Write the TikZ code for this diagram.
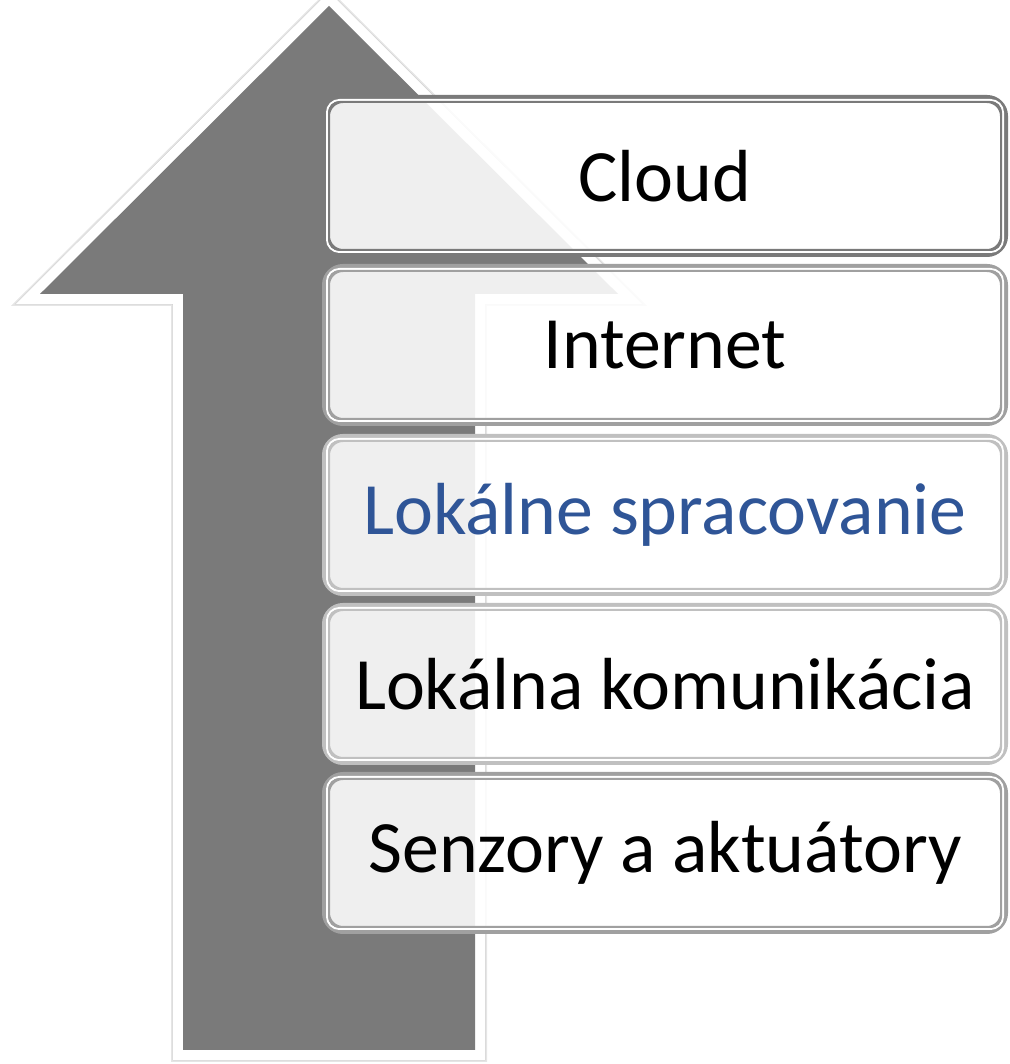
\documentclass[tikz,border=0pt]{standalone}
\usepackage{fontspec}
\setmainfont{Carlito}
\usetikzlibrary{positioning}

\definecolor{arrowgray}{RGB}{122,122,122}
\definecolor{rimdark}{RGB}{122,122,122}
\definecolor{rimmid}{RGB}{160,160,160}
\definecolor{rimlight}{RGB}{192,192,192}
\definecolor{textblue}{RGB}{47,85,151}

\begin{document}
\begin{tikzpicture}[
  tier/.style={rectangle, rounded corners=0.34cm, line width=0.16cm,
    fill=white, fill opacity=0.885, text opacity=1,
    minimum width=13.56cm, minimum height=3.08cm,
    font=\fontsize{42}{48}\selectfont},
  arrowshadow/.style={draw=black, draw opacity=0.1, line join=miter}
]
\useasboundingbox (0,0) rectangle (20.18,21.28);

% big arrow
\coordinate (tip) at (6.58,21.16);
\coordinate (wl) at (0.80,15.40);
\coordinate (sl) at (3.66,15.40);
\coordinate (bl) at (3.66,0.28);
\coordinate (br) at (9.50,0.28);
\coordinate (sr) at (9.50,15.40);
\coordinate (wr) at (12.36,15.40);

\foreach \w in {0.30,0.36,0.42,0.48}
  \draw[arrowshadow, line width=\w cm, yshift=-0.14cm, xshift=-0.02cm]
    (tip) -- (wr) -- (sr) -- (br) -- (bl) -- (sl) -- (wl) -- cycle;
\draw[white, line width=0.4cm, line join=miter]
  (tip) -- (wr) -- (sr) -- (br) -- (bl) -- (sl) -- (wl) -- cycle;
\fill[arrowgray]
  (tip) -- (wr) -- (sr) -- (br) -- (bl) -- (sl) -- (wl) -- cycle;

% layers
\foreach \n/\txt/\col/\y in {
  cloud/{Cloud}/rimdark/17.76,
  internet/{Internet}/rimmid/14.38,
  proc/{\textcolor{textblue}{Lokálne spracovanie}}/rimlight/10.98,
  comm/{Lokálna komunikácia}/rimlight/7.60,
  sens/{Senzory a aktuátory}/rimmid/4.22} {
  \node[tier, draw=\col] (\n) at (13.30,\y) {\txt};
  \draw[white, line width=0.04cm, rounded corners=0.25cm]
    ([shift={(0.10cm,-0.10cm)}]\n.north west) rectangle ([shift={(-0.10cm,0.10cm)}]\n.south east);
  \draw[\col, line width=0.03cm, rounded corners=0.22cm]
    ([shift={(0.135cm,-0.135cm)}]\n.north west) rectangle ([shift={(-0.135cm,0.135cm)}]\n.south east);
}

\end{tikzpicture}
\end{document}
